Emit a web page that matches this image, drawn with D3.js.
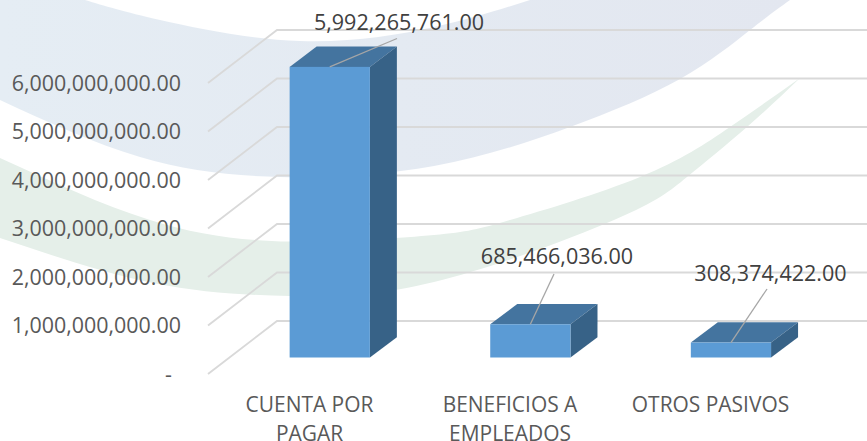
<!DOCTYPE html>
<html><head><meta charset="utf-8">
<script src="https://cdn.jsdelivr.net/npm/d3@7"></script>
<style>html,body{margin:0;padding:0;background:#fff;overflow:hidden}svg{display:block}text{font-family:"Open Sans",sans-serif}</style>
</head><body><svg id="c" width="867" height="441"></svg>
<script>
const categories = ["CUENTA POR PAGAR","BENEFICIOS A EMPLEADOS","OTROS PASIVOS"];
const categoryLines = [["CUENTA POR","PAGAR"],["BENEFICIOS A","EMPLEADOS"],["OTROS PASIVOS"]];
const values = [5992265761, 685466036, 308374422];
const tickValues = [0,1e9,2e9,3e9,4e9,5e9,6e9];
const labelAnchors = [[399,30],[557,264],[770.5,281]];
const leaderEnds = [[397,38.5],[554,274],[767,289]];
const labelCentres = [309.5,510,710.5];

const svg = d3.select("#c");
const y = d3.scaleLinear().domain([0,6e9]).range([374,83]);
const x = d3.scaleBand().domain(categories).range([229.45,831.25]).paddingInner(0.6).paddingOuter(0.3);
const wall = {dx:69, dy:-53}, barOff = -16.5, depth = {dx:27, dy:-20.3};
const fmt = v => v===0 ? "-" : d3.format(",.2f")(v);

// decorative background swooshes
const defs = svg.append("defs");
const g = defs.append("linearGradient").attr("id","bg1").attr("x1","0").attr("x2","1").attr("y1","0").attr("y2","0");
g.append("stop").attr("offset","0").attr("stop-color","#e5edf4");
g.append("stop").attr("offset","1").attr("stop-color","#e3e7f0");
const line = d3.line().curve(d3.curveNatural);
const blueLower = [[0,100],[140,157],[280,177],[434,166],[570,127],[680,79],[750,30],[790,0]];
const blueUpper = [[530,0],[434,27],[300,41],[160,20],[85,0]];
svg.append("path").attr("d", line(blueLower)+"L"+line(blueUpper).slice(1)+"L0,0Z").attr("fill","url(#bg1)");
const greenTop = [[0,158],[150,220],[290,241.5],[434,235],[510,220],[640,177],[730,127],[800,78]];
const greenBottom = [[800,78],[747,127],[687,177],[614,220],[434,282],[290,296],[153,283],[0,238]];
svg.append("path").attr("d", line(greenTop)+"L"+line(greenBottom).slice(1)+"Z").attr("fill","#e5efe9");

// gridlines
const gridG = svg.append("g").attr("fill","none").attr("stroke","#d9d9d9").attr("stroke-width",1.9);
gridG.selectAll("path").data(tickValues).join("path")
  .attr("d", v => `M208,${y(v)}L${208+wall.dx},${y(v)+wall.dy}L867,${y(v)+wall.dy}`);

// tick labels
svg.append("g").selectAll("text").data(tickValues).join("text")
  .attr("x", v => v===0 ? 172 : 181).attr("y", v => y(v)).attr("dy","0.36em")
  .attr("text-anchor","end").attr("fill","#595959").attr("font-size",21.45).text(fmt);

// 3-D bars
const bars = svg.append("g").selectAll("g").data(categories.map((c,i)=>({c,v:values[i],i}))).join("g");
const yb = v => y(v)+barOff;
bars.append("path").attr("fill","#44749f").attr("d", d=>{
  const a=x(d.c), w=x.bandwidth(), t=yb(d.v);
  return `M${a},${t}L${a+w},${t}L${a+w+depth.dx},${t+depth.dy}L${a+depth.dx},${t+depth.dy}Z`;});
bars.append("path").attr("fill","#376287").attr("d", d=>{
  const a=x(d.c)+x.bandwidth(), t=yb(d.v), b=yb(0);
  return `M${a},${t}L${a+depth.dx},${t+depth.dy}L${a+depth.dx},${b+depth.dy}L${a},${b}Z`;});
bars.append("rect").attr("fill","#5b9bd5").attr("x",d=>x(d.c)).attr("width",x.bandwidth())
  .attr("y",d=>yb(d.v)).attr("height",d=>yb(0)-yb(d.v));

// leader lines and data labels
bars.append("line").attr("stroke","#a6a6a6").attr("stroke-width",1.3)
  .attr("x1",d=>x(d.c)+x.bandwidth()/2).attr("y1",d=>yb(d.v))
  .attr("x2",d=>leaderEnds[d.i][0]).attr("y2",d=>leaderEnds[d.i][1]);
bars.append("text").attr("x",d=>labelAnchors[d.i][0]).attr("y",d=>labelAnchors[d.i][1])
  .attr("text-anchor","middle").attr("fill","#404040").attr("font-size",21.55).text(d=>fmt(d.v));

// category labels
const cat = svg.append("g").selectAll("text").data(categoryLines).join("text")
  .attr("text-anchor","middle").attr("fill","#595959").attr("font-size",20.95);
cat.selectAll("tspan").data((d,i)=>d.map((t,j)=>({t,j,i}))).join("tspan")
  .attr("x",d=>labelCentres[d.i]).attr("y",d=>411.5+d.j*29.5).text(d=>d.t);
</script></body></html>
